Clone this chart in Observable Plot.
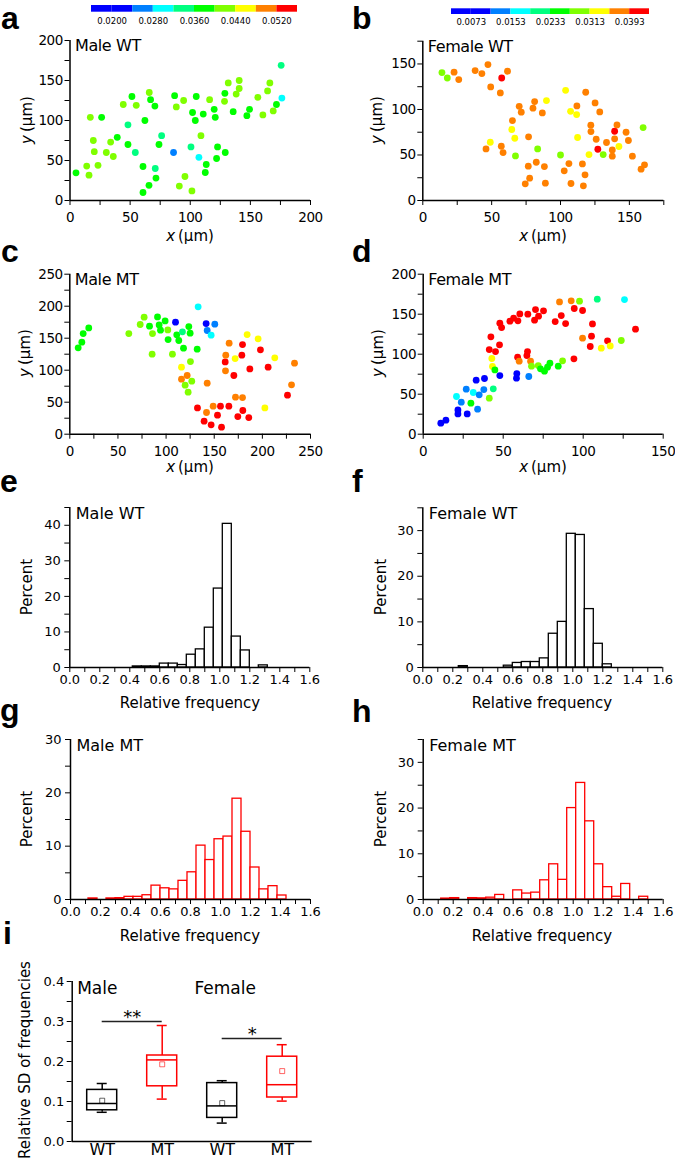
<!DOCTYPE html>
<html>
<head>
<meta charset="utf-8">
<script src="https://cdn.jsdelivr.net/npm/d3@7"></script>
<script src="https://cdn.jsdelivr.net/npm/@observablehq/plot@0.6"></script>
<style>
html,body{margin:0;padding:0;background:#fff;}
#fig{position:relative;width:675px;height:1164px;overflow:hidden;background:#fff;font-family:"DejaVu Sans",sans-serif;color:#000;}
#fig svg{position:absolute;overflow:visible;}
.t{position:absolute;white-space:nowrap;font-size:15px;line-height:1;transform:translate(-50%,-50%);}
.r{transform:translate(-50%,-50%) rotate(-90deg);}
.L{position:absolute;font-family:"Liberation Sans",Arial,sans-serif;font-weight:bold;font-size:32px;line-height:normal;}
</style>
</head>
<body>
<div id="fig"></div>
<script>
// ---------------- data ----------------
const colorStopsA = [0.016,0.020,0.024,0.028,0.032,0.036,0.040,0.044,0.048,0.052,0.056];
const colorTicksA = [0.0200,0.0280,0.0360,0.0440,0.0520];
const colorStopsB = [0.0033,0.0073,0.0113,0.0153,0.0193,0.0233,0.0273,0.0313,0.0353,0.0393,0.0433];
const colorTicksB = [0.0073,0.0153,0.0233,0.0313,0.0393];

// a: Male WT
const aX = [5,13.9,15.8,16.9,19.4,20.2,23.3,26.3,30.2,33.8,
  36,39.3,44.3,48.2,48.2,51.5,54.3,55.1,60.7,60.7,
  62.3,65.7,65.9,67,70.6,70.9,71.5,74,76.2,86.1,
  87,88.4,90.9,94.5,95.6,100.6,101.4,101.9,104.2,105,
  107.2,108.9,110.8,112.5,113.3,116.1,119.9,120.8,121.9,122.7,
  128.5,128.8,129.1,131.6,135.7,138.2,140.7,140.7,147.1,149.3,
  156.2,160.4,164.3,166.2,169,171.7,175.6,176.2];
const aY = [34.6,43,31.7,104,75,61,44,104,60,73,
  55,79,120,94.6,70,130,60,119,42.5,10,
  100,19,135,126,118,40,28,70,81,60,
  131,117,18,125,30,67,12,110,100,130,
  54,81,108,35,45,126,114,104,52.5,67,
  124,134,60,147,111,133,150,140,106,114,
  129,107,137,147,112,120,169,128];
const aV = [0.038,0.042,0.042,0.042,0.042,0.042,0.042,0.038,0.042,0.042,
  0.042,0.038,0.042,0.034,0.038,0.038,0.034,0.042,0.038,0.038,
  0.038,0.038,0.042,0.038,0.038,0.034,0.038,0.038,0.034,0.026,
  0.038,0.042,0.042,0.042,0.042,0.034,0.042,0.038,0.038,0.038,
  0.030,0.042,0.038,0.038,0.038,0.042,0.038,0.038,0.038,0.038,
  0.042,0.038,0.038,0.042,0.038,0.042,0.042,0.042,0.038,0.038,
  0.042,0.042,0.042,0.042,0.042,0.038,0.034,0.030];

// b: Female WT
const bX = [13.9,17.8,22.7,26.1,38,42.9,47.3,49.3,57.3,56.3,
  61.5,45.9,49,57,58.3,64.6,65.1,66.8,67.3,70,
  71.5,81.2,80,76.8,76.6,77.6,74.4,82.4,83.4,86.8,
  88.3,89,89.8,100,102.7,103.7,106.1,107.3,107.6,111.7,
  111.9,112.4,115.9,116.6,117.8,118.3,120.7,122,122.1,125.1,
  125.9,127.1,128.5,131,133.4,137.6,137.6,139.3,139.3,141,
  142.4,147.6,149.3,152.2,160,158.5,161];
const bY = [140.5,134.6,141,132.8,142.7,139.4,149.3,124.8,134.6,118.2,
  142,56.7,64,59.6,52.7,78,87.8,68.4,49,103.5,
  97,108.7,101.4,69.9,37.7,24.5,18.3,42,56.7,96.2,
  37.3,19,109.8,50,32.6,121,40.6,98,18.7,94.4,
  103.9,69.2,40.2,16.1,28.2,118.9,50.5,82.7,75.7,107.2,
  67.3,56.3,97.3,50.5,63.7,55.6,48.7,76.1,67.7,83,
  59.3,75,65.9,48.7,80.1,34.4,39.2];
const bV = [0.0293,0.0293,0.0373,0.0373,0.0373,0.0373,0.0373,0.0373,0.0413,0.0373,
  0.0373,0.0373,0.0333,0.0373,0.0373,0.0333,0.0373,0.0333,0.0293,0.0373,
  0.0373,0.0373,0.0373,0.0373,0.0373,0.0373,0.0373,0.0373,0.0293,0.0373,
  0.0373,0.0373,0.0333,0.0293,0.0373,0.0333,0.0373,0.0333,0.0373,0.0333,
  0.0373,0.0333,0.0373,0.0373,0.0373,0.0373,0.0333,0.0373,0.0373,0.0373,
  0.0373,0.0413,0.0373,0.0293,0.0373,0.0373,0.0373,0.0413,0.0373,0.0373,
  0.0333,0.0373,0.0373,0.0373,0.0293,0.0373,0.0373];

// c: Male MT
const cX = [8.7,12.5,13.9,19.7,61.3,73.1,77.2,82.8,85.9,85.5,
  91.1,92.8,94.2,99,101.8,102.1,106.6,109.8,111.1,113.2,
  117,118.1,116,116,119.8,121.9,122.9,123.6,125,125.3,
  126.7,132.3,132.6,133.3,139.5,142,141.6,142.7,142.7,146.8,
  146.8,150.6,148.9,153.4,156.5,157.6,161.4,162,161.7,165.5,
  165.2,170.4,171.7,172.1,174.5,178.7,179.4,179.4,179.7,184.2,
  185.9,187,195.6,198,202.6,206,212.9,226.1,230.3,233.4];
const cY = [134.9,143.8,157.3,166.1,157.3,171.4,182.8,168.8,157.3,125,
  183.3,170.8,162.5,177,163,147.9,125,175,155.2,146.4,
  159.9,134.4,104.7,86,76.6,91.7,65.6,168.2,157.8,113.5,
  82.8,132.8,41.1,199,20.3,33.9,172.9,162,79.7,154.7,
  14.6,171.9,43.8,29.7,43.8,10.9,113,123.4,99,142.2,
  43.8,91.7,118.2,57.8,27.6,123.4,140.1,57.3,37,155.7,
  26,102,149,131.8,41.1,104.7,119.3,60.9,77.1,110.9];
const cV = [0.038,0.038,0.038,0.038,0.042,0.042,0.042,0.038,0.042,0.042,
  0.038,0.038,0.038,0.038,0.042,0.038,0.042,0.022,0.038,0.038,
  0.034,0.038,0.046,0.050,0.042,0.050,0.042,0.038,0.038,0.042,
  0.042,0.038,0.054,0.030,0.054,0.050,0.022,0.026,0.050,0.030,
  0.054,0.026,0.050,0.054,0.054,0.054,0.054,0.050,0.050,0.050,
  0.054,0.054,0.046,0.050,0.054,0.054,0.054,0.050,0.054,0.046,
  0.054,0.054,0.046,0.054,0.046,0.054,0.046,0.054,0.050,0.050];

// d: Female MT
const dX = [11,14.2,20.8,21.7,21.7,23.8,26.9,27.5,29.8,31.3,
  33.1,34,35,37.9,38.3,41.3,41.3,42.3,42.9,43.3,
  43.8,44.8,45.2,47.7,47.9,47.9,49,54.2,56.5,58.3,
  58.5,59.2,59,60,60.4,64.8,65.2,65.4,66,67.1,
  67.7,69.6,70.2,72.1,71.9,73.3,75.2,75.8,77.7,79.2,
  82.5,84.4,85.2,86.3,87.1,89,92.5,94.4,94.2,97.7,
  99.6,99.6,104.4,105.2,105.8,108.8,111.3,115.2,116.9,123.8,
  125.8,132.7];
const dY = [13.8,17.5,47.1,30.4,25.4,40,56.3,25.4,38.8,52.1,
  67.5,31.3,49.2,55.8,69.6,45,105.8,121.7,94.6,84.6,
  56.7,80.4,103.3,111.7,73.3,138.8,133.3,141.3,145,70,
  75.8,141.7,96.3,91.3,150.4,98.3,103.3,150,72.1,91.3,
  85,142.5,155.8,147.5,85.8,81.7,154.2,78.8,83.8,88.8,
  140.8,85,165.4,148.3,91.7,138.3,166.7,157.1,94.2,166.3,
  120,154.6,109.6,122.5,137.9,168.8,107.5,116.7,110.4,117.1,
  168.3,131.3];
const dV = [0.0093,0.0093,0.0173,0.0093,0.0093,0.0133,0.0133,0.0093,0.0253,0.0173,
  0.0093,0.0133,0.0133,0.0133,0.0093,0.0293,0.0413,0.0413,0.0333,0.0333,
  0.0213,0.0253,0.0413,0.0413,0.0093,0.0413,0.0413,0.0413,0.0413,0.0093,
  0.0093,0.0413,0.0413,0.0373,0.0413,0.0413,0.0413,0.0413,0.0133,0.0373,
  0.0293,0.0413,0.0413,0.0413,0.0293,0.0253,0.0413,0.0253,0.0253,0.0253,
  0.0413,0.0253,0.0373,0.0413,0.0293,0.0413,0.0373,0.0413,0.0413,0.0293,
  0.0373,0.0413,0.0413,0.0413,0.0413,0.0213,0.0333,0.0413,0.0333,0.0293,
  0.0173,0.0413];

// histograms: bin lower edges (relative frequency) and percent
const binWidth = 0.06;
const eBins = [0.42,0.48,0.54,0.60,0.66,0.72,0.78,0.84,0.90,0.96,1.02,1.08,1.14,1.26];
const ePct  = [0.3,0.3,0.3,1.1,1.1,0.7,3.6,5.1,11.2,22.2,40.4,8.7,4.8,0.6];
const fBins = [0.24,0.54,0.60,0.66,0.72,0.78,0.84,0.90,0.96,1.02,1.08,1.14,1.20];
const fPct  = [0.3,0.4,1.0,1.2,1.2,2.0,7.4,10.0,29.3,29.05,12.8,5.2,0.7];
const gBins = [0.12,0.24,0.30,0.36,0.42,0.48,0.54,0.60,0.66,0.72,0.78,0.84,0.90,0.96,1.02,1.08,1.14,1.20,1.26,1.32,1.38];
const gPct  = [0.2,0.2,0.25,0.5,0.5,0.8,2.6,2.1,1.9,3.5,5.1,10.1,7.4,11.3,11.8,18.9,12.7,6.0,1.9,2.5,0.75];
const hBins = [0.12,0.18,0.30,0.36,0.42,0.48,0.60,0.66,0.72,0.78,0.84,0.90,0.96,1.02,1.08,1.14,1.20,1.26,1.32,1.44];
const hPct  = [0.2,0.3,0.3,0.25,0.4,1.0,2.0,1.3,1.5,4.2,7.7,4.3,20,25.5,17.1,7.7,2.7,0.6,3.4,0.6];

// i: box plots of relative SD
const iGroups = ["Male WT","Male MT","Female WT","Female MT"];
const iGeno   = ["WT","MT","WT","MT"];
const iLow    = [0.073,0.106,0.046,0.101];
const iQ1     = [0.078,0.138,0.059,0.110];
const iMedian = [0.095,0.204,0.089,0.142];
const iQ3     = [0.129,0.215,0.146,0.212];
const iHigh   = [0.145,0.290,0.152,0.242];
const iMean   = [0.102,0.193,0.096,0.176];
const iSigFrom = ["Male WT","Female WT"];
const iSigTo   = ["Male MT","Female MT"];
const iSigY    = [0.300,0.2575];
const iSigText = ["**","*"];
const iSexLabels = ["Male","Female"];

// ---------------- drawing ----------------
const fig = document.getElementById("fig");
const FONT = "DejaVu Sans, sans-serif";
const RAINBOW = ["#0000ff","#0000ff","#0080ff","#00ffff","#00ff80","#00ff00","#80ff00","#ffff00","#ff8000","#ff0000"];

function frameBox(left, top, w, h, fx0, fx1, fy0, fy1) {
  return {width: w, height: h, marginLeft: fx0 - left, marginRight: left + w - fx1,
          marginTop: fy0 - top, marginBottom: top + h - fy1};
}
function put(node, left, top) {
  node.style.left = left + "px"; node.style.top = top + "px"; fig.appendChild(node);
}
function st(size, ls) {
  return {fontFamily: FONT, fontSize: size + "px", letterSpacing: (ls || 0) + "px", background: "transparent", color: "#000", overflow: "visible"};
}

function colorbar(stops, ticks, left, top, w, h, fr, pad) {
  const segs = d3.range(stops.length - 1);
  const svg = Plot.plot({
    ...frameBox(left, top, w, h, ...fr),
    style: st(8.5),
    x: {domain: [stops[0], stops[stops.length - 1]], ticks, tickFormat: d3.format(".4f"), tickSize: 0, tickPadding: pad, label: null},
    color: {type: "threshold", domain: stops.slice(1, -1), range: RAINBOW},
    marks: [Plot.rect(segs, {x1: i => stops[i], x2: i => stops[i + 1], fill: i => (stops[i] + stops[i + 1]) / 2})]
  });
  put(svg, left, top);
}

function scatter(X, Y, V, stops, xMax, yMax, title, left, top, fr) {
  const idx = d3.range(X.length);
  const svg = Plot.plot({
    ...frameBox(left, top, 335, 215, ...fr),
    style: st(13.5, -0.4),
    x: {domain: [0, xMax], ticks: d3.range(0, xMax + 1, 25), tickFormat: d => d % 50 === 0 ? d : "", tickSize: 5, tickPadding: 7, label: null},
    y: {domain: [0, yMax], ticks: d3.range(0, yMax + 1, 25), tickFormat: d => d % 50 === 0 ? d : "", tickSize: 5, tickPadding: 2, label: null},
    color: {type: "threshold", domain: stops.slice(1, -1), range: RAINBOW},
    marks: [
      Plot.dot(idx, {x: i => X[i], y: i => Y[i], fill: i => V[i], r: 3.4}),
      Plot.ruleX([0], {strokeWidth: 1.5}),
      Plot.ruleY([0], {strokeWidth: 1.5}),
      Plot.text([title], {text: d => d, frameAnchor: "top-left", textAnchor: "start", lineAnchor: "top", dx: 5, dy: -1, fontSize: 16})
    ]
  });
  put(svg, left, top);
}

function hist(B, P, yMax, col, title, left, top, fr) {
  const idx = d3.range(B.length);
  const svg = Plot.plot({
    ...frameBox(left, top, 335, 215, ...fr),
    style: st(13),
    x: {domain: [0, 1.6], ticks: d3.range(0, 17).map(k => k / 10), tickFormat: d => Math.round(d * 10) % 2 === 0 ? d.toFixed(1) : "", tickSize: 5, tickPadding: 2, label: null},
    y: {domain: [0, yMax], ticks: d3.range(0, yMax + 1, 5), tickFormat: d => d % 10 === 0 ? d : "", tickSize: 5, tickPadding: 4, label: null},
    marks: [
      Plot.rect(idx, {x1: i => B[i], x2: i => B[i] + binWidth, y1: 0, y2: i => P[i], fill: "white", stroke: col, strokeWidth: 1.3}),
      Plot.ruleX([0], {strokeWidth: 1.5}),
      Plot.ruleY([0], {strokeWidth: 1.5}),
      Plot.text([title], {text: d => d, frameAnchor: "top-left", textAnchor: "start", lineAnchor: "top", dx: 6, dy: 0, fontSize: 16})
    ]
  });
  put(svg, left, top);
}

function boxPanel(left, top, fr) {
  const idx = d3.range(iGroups.length);
  const pos = g => iGroups.indexOf(g) + 1;
  const half = 0.25, cap = 0.0833;
  const sIdx = d3.range(iSigFrom.length);
  const svg = Plot.plot({
    ...frameBox(left, top, 335, 204, ...fr),
    style: st(13),
    x: {domain: [0.5, 4.5], axis: null},
    y: {domain: [0, 0.4], ticks: d3.range(0, 9).map(k => k * 0.05), tickFormat: d => Math.round(d * 100) % 10 === 0 ? d.toFixed(1) : "", tickSize: 5, tickPadding: 3, label: null},
    color: {domain: ["WT","MT"], range: ["#000000","#ff0000"]},
    marks: [
      Plot.ruleX(idx, {x: i => i + 1, y1: i => iLow[i], y2: i => iQ1[i], stroke: i => iGeno[i], strokeWidth: 1.5}),
      Plot.ruleX(idx, {x: i => i + 1, y1: i => iQ3[i], y2: i => iHigh[i], stroke: i => iGeno[i], strokeWidth: 1.5}),
      Plot.ruleY(idx, {x1: i => i + 1 - cap, x2: i => i + 1 + cap, y: i => iLow[i], stroke: i => iGeno[i], strokeWidth: 1.5}),
      Plot.ruleY(idx, {x1: i => i + 1 - cap, x2: i => i + 1 + cap, y: i => iHigh[i], stroke: i => iGeno[i], strokeWidth: 1.5}),
      Plot.rect(idx, {x1: i => i + 1 - half, x2: i => i + 1 + half, y1: i => iQ1[i], y2: i => iQ3[i], fill: "white", stroke: i => iGeno[i], strokeWidth: 1.5}),
      Plot.ruleY(idx, {x1: i => i + 1 - half, x2: i => i + 1 + half, y: i => iMedian[i], stroke: i => iGeno[i], strokeWidth: 1.5}),
      Plot.dot(idx, {x: i => i + 1, y: i => iMean[i], symbol: "square", r: 2.8, fill: "none", stroke: i => iGeno[i], strokeWidth: 1, strokeOpacity: 0.6}),
      Plot.ruleY(sIdx, {x1: i => pos(iSigFrom[i]), x2: i => pos(iSigTo[i]), y: i => iSigY[i], stroke: "#222", strokeWidth: 1.5}),
      Plot.text(sIdx, {x: i => (pos(iSigFrom[i]) + pos(iSigTo[i])) / 2, y: i => iSigY[i], text: i => iSigText[i], lineAnchor: "bottom", dy: 1, fontSize: 18}),
      Plot.text(idx, {x: i => i + 1, text: i => iGeno[i], frameAnchor: "bottom", lineAnchor: "top", dy: 2, fontSize: 16}),
      Plot.text([iSexLabels[0]], {text: d => d, frameAnchor: "top-left", textAnchor: "start", lineAnchor: "top", dx: 5, dy: 0, fontSize: 17}),
      Plot.text([iSexLabels[1]], {x: pos("Female WT"), text: d => d, frameAnchor: "top", lineAnchor: "top", dx: 3, dy: 0, fontSize: 17}),
      Plot.ruleX([0.5], {strokeWidth: 1.5}),
      Plot.ruleY([0], {strokeWidth: 1.5})
    ]
  });
  put(svg, left, top);
}

colorbar(colorStopsA, colorTicksA, 80, 0, 230, 30, [91, 297, 5, 11.7], 6);
colorbar(colorStopsB, colorTicksB, 440, 0, 225, 30, [451, 649, 8.3, 14], 4.5);

scatter(aX, aY, aV, colorStopsA, 200, 200, "Male WT", 0, 25, [69.5, 310, 40, 200]);
scatter(bX, bY, bV, colorStopsB, 175, 175, "Female WT", 340, 25, [422.3, 663.3, 40.7, 200]);
scatter(cX, cY, cV, colorStopsA, 250, 250, "Male MT", 0, 255, [69.3, 310, 273.7, 433.7]);
scatter(dX, dY, dV, colorStopsB, 150, 200, "Female MT", 340, 255, [422.7, 662.7, 273.7, 433.7]);

hist(eBins, ePct, 45, "#000", "Male WT", 0, 490, [69.3, 309.3, 507, 667]);
hist(fBins, fPct, 35, "#000", "Female WT", 340, 490, [422.3, 662.3, 507.3, 667]);
hist(gBins, gPct, 30, "#ff0000", "Male MT", 0, 720, [70, 310, 739, 899]);
hist(hBins, hPct, 35, "#ff0000", "Female MT", 340, 720, [422.7, 662.7, 739, 899]);

boxPanel(0, 960, [71.7, 311.7, 981, 1141]);

// HTML titles
function label(html, x, y, rot) {
  const d = document.createElement("div");
  d.className = "t" + (rot ? " r" : "");
  d.innerHTML = html; d.style.left = x + "px"; d.style.top = y + "px";
  fig.appendChild(d);
}
const xu = "<i>x</i>\u2009(\u03bcm)", yu = "<i>y</i>\u2009(\u03bcm)";
label(xu, 190, 236); label(xu, 543, 236); label(xu, 190, 467); label(xu, 543, 467);
label(yu, 27, 120, true); label(yu, 377, 120, true); label(yu, 25, 353, true); label(yu, 378, 353, true);
label("Relative frequency", 190, 703); label("Relative frequency", 542, 703);
label("Relative frequency", 190, 936); label("Relative frequency", 542, 936);
label("Percent", 27, 587, true); label("Percent", 381, 587, true);
label("Percent", 27, 819, true); label("Percent", 381, 819, true);
label("Relative SD of frequencies", 25, 1060, true);

// panel letters: [letter, left, baseline]
const letters = [["a",1,30],["b",352,30],["c",1,263],["d",352,263],["e",0,493],["f",352,493],["g",0,722],["h",352,723],["i",3,945]];
for (const [s, x, base] of letters) {
  const d = document.createElement("div");
  d.className = "L"; d.textContent = s;
  d.style.left = x + "px"; d.style.top = (base - 30) + "px";
  fig.appendChild(d);
}
</script>
</body>
</html>
